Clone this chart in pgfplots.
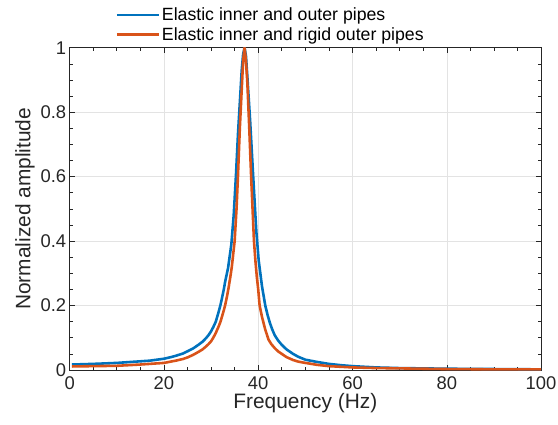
\documentclass[border=0pt]{standalone}
\usepackage{fontspec}
\setmainfont{Liberation Sans}
\usepackage{pgfplots}
\pgfplotsset{compat=1.18}

\definecolor{mblue}{rgb}{0,0.447,0.741}
\definecolor{morange}{rgb}{0.85,0.325,0.098}
\definecolor{axgray}{rgb}{0.15,0.15,0.15}

\begin{document}
\begin{tikzpicture}
\useasboundingbox (-70pt,-55pt) rectangle (491pt,372pt);
\begin{axis}[
  at={(0pt,0pt)}, anchor=south west,
  width=474pt, height=324pt, scale only axis,
  xmin=0, xmax=100, ymin=0, ymax=1,
  xtick={0,20,...,100}, ytick={0,0.2,...,1},
  minor x tick num=3, minor y tick num=3,
  tick align=inside, major tick length=5pt, minor tick length=3pt,
  every tick/.style={axgray, line width=0.6pt},
  axis line style={axgray, line width=0.6pt},
  grid=major, major grid style={gray!22, line width=0.6pt},
  /pgf/number format/assume math mode=true,
  ticklabel style={font=\fontsize{18.5}{20}\selectfont, text=axgray},
  xticklabel style={yshift=-3pt},
  label style={font=\fontsize{21}{23}\selectfont, text=axgray},
  xlabel={Frequency (Hz)}, ylabel={Normalized amplitude},
  xlabel style={yshift=3pt},
  ylabel style={yshift=-1pt},
  legend style={at={(0.095,1.0)}, anchor=south west, yshift=3pt, draw=none, fill=none,
    font=\fontsize{17.8}{19}\selectfont, row sep=1pt, inner sep=1pt},
  legend cell align=left,
  legend image code/.code={\draw[#1, line width=2.6pt] (0pt,0pt) -- (42pt,0pt);},
]
\addplot[mblue, line width=2.6pt, line join=round] coordinates {
(0.5,0.017) (5,0.019) (10,0.022) (15,0.027) (17,0.029) (20,0.035)
(21.5,0.040) (22.5,0.044) (24,0.051) (25,0.058) (26.2,0.067) (27.3,0.078)
(28.2,0.088) (29,0.100) (29.5,0.109) (30,0.120) (30.5,0.134) (31,0.150)
(31.6,0.180) (32,0.202) (32.3,0.222) (32.7,0.250) (33,0.275) (33.6,0.316)
(34.3,0.390) (34.8,0.480) (35.3,0.610) (35.7,0.730) (36.1,0.830) (36.5,0.930)
(36.8,0.980) (37.1,1.000) (37.4,0.975) (37.7,0.910) (38.3,0.770) (38.9,0.610)
(39.6,0.430) (40.1,0.340) (40.8,0.260) (41.5,0.200) (42,0.170) (42.5,0.145)
(43,0.125) (43.5,0.108) (44.2,0.092) (45,0.078) (46,0.064) (47.4,0.050)
(48.5,0.041) (50,0.032) (52.5,0.025) (55,0.019) (57.5,0.015) (60,0.012)
(65,0.008) (70,0.006) (80,0.004) (90,0.003) (100,0.002)
};
\addplot[morange, line width=2.6pt, line join=round] coordinates {
(0.5,0.011) (5,0.012) (10,0.013) (15,0.017) (20,0.022) (22.5,0.029)
(24,0.034) (25,0.039) (26.2,0.047) (27.3,0.056) (28.2,0.064) (29,0.074)
(29.5,0.081) (30,0.089) (30.5,0.101) (31,0.115) (31.6,0.135) (32,0.150)
(32.3,0.165) (32.7,0.185) (33,0.202) (33.4,0.230) (33.7,0.254) (34.1,0.290)
(34.4,0.320) (35.0,0.400) (35.4,0.500) (35.7,0.600) (36.1,0.750) (36.5,0.870)
(36.8,0.960) (37.1,1.000) (37.4,0.960) (37.7,0.890) (38.1,0.750) (38.5,0.600)
(38.8,0.500) (39.1,0.400) (39.4,0.340) (39.7,0.290) (40.0,0.250) (40.3,0.200)
(40.8,0.165) (41.5,0.125) (42.2,0.094) (42.8,0.080) (43.5,0.068) (44.2,0.058)
(45,0.050) (46,0.040) (47.4,0.031) (48.5,0.026) (50,0.022) (52.5,0.016)
(55,0.012) (57.5,0.010) (60,0.008) (65,0.006) (70,0.005) (80,0.003)
(90,0.002) (100,0.002)
};
\legend{Elastic inner and outer pipes, Elastic inner and rigid outer pipes}
\end{axis}
\end{tikzpicture}
\end{document}
